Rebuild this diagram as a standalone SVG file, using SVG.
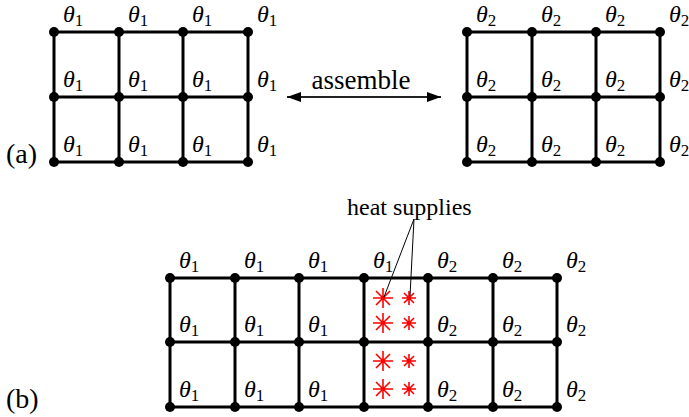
<svg xmlns="http://www.w3.org/2000/svg" width="689" height="417" viewBox="0 0 689 417">
<defs>
<style>
.g{stroke:#000;stroke-width:3;fill:none}
.d{fill:#000}
.t{font-family:"Liberation Serif","Times New Roman",serif;font-size:24px;fill:#000}
.th{font-style:italic}
.sub{font-size:17px;font-style:normal}
.lab{font-size:28px}
.st{stroke:#f00;stroke-width:1.6;fill:none}
.ld{stroke:#000;stroke-width:1;fill:none}
</style>
<marker id="ah" viewBox="0 0 14 10" refX="14" refY="5" markerWidth="14" markerHeight="10" markerUnits="userSpaceOnUse" orient="auto-start-reverse">
<path d="M0,0 L14,5 L0,10 Z" fill="#000"/>
</marker>
<g id="big"><path class="st" d="M-10,0H10M0,-10V10M-7,-7L7,7M-7,7L7,-7"/></g>
<g id="small"><path class="st" d="M-7,0H7M0,-7V7M-5,-5L5,5M-5,5L5,-5"/></g>
</defs>
<rect width="689" height="417" fill="#fff"/>

<g id="gridA">
<path class="g" d="M54,32H248M54,97H248M54,162H248M54,32V162M119,32V162M183,32V162M248,32V162"/>
<g class="d">
<circle cx="54" cy="32" r="5"/><circle cx="119" cy="32" r="5"/><circle cx="183" cy="32" r="5"/><circle cx="248" cy="32" r="5"/>
<circle cx="54" cy="97" r="5"/><circle cx="119" cy="97" r="5"/><circle cx="183" cy="97" r="5"/><circle cx="248" cy="97" r="5"/>
<circle cx="54" cy="162" r="5"/><circle cx="119" cy="162" r="5"/><circle cx="183" cy="162" r="5"/><circle cx="248" cy="162" r="5"/>
</g>
<g class="t">
<text x="63" y="22"><tspan class="th">θ</tspan><tspan class="sub" dy="4">1</tspan></text>
<text x="128" y="22"><tspan class="th">θ</tspan><tspan class="sub" dy="4">1</tspan></text>
<text x="192" y="22"><tspan class="th">θ</tspan><tspan class="sub" dy="4">1</tspan></text>
<text x="257" y="22"><tspan class="th">θ</tspan><tspan class="sub" dy="4">1</tspan></text>
<text x="63" y="87"><tspan class="th">θ</tspan><tspan class="sub" dy="4">1</tspan></text>
<text x="128" y="87"><tspan class="th">θ</tspan><tspan class="sub" dy="4">1</tspan></text>
<text x="192" y="87"><tspan class="th">θ</tspan><tspan class="sub" dy="4">1</tspan></text>
<text x="257" y="87"><tspan class="th">θ</tspan><tspan class="sub" dy="4">1</tspan></text>
<text x="63" y="152"><tspan class="th">θ</tspan><tspan class="sub" dy="4">1</tspan></text>
<text x="128" y="152"><tspan class="th">θ</tspan><tspan class="sub" dy="4">1</tspan></text>
<text x="192" y="152"><tspan class="th">θ</tspan><tspan class="sub" dy="4">1</tspan></text>
<text x="257" y="152"><tspan class="th">θ</tspan><tspan class="sub" dy="4">1</tspan></text>
<text class="lab" x="6" y="163">(a)</text>
</g>
</g>

<g id="gridB">
<path class="g" d="M467,32H660M467,97H660M467,162H660M467,32V162M532,32V162M596,32V162M660,32V162"/>
<g class="d">
<circle cx="467" cy="32" r="5"/><circle cx="532" cy="32" r="5"/><circle cx="596" cy="32" r="5"/><circle cx="660" cy="32" r="5"/>
<circle cx="467" cy="97" r="5"/><circle cx="532" cy="97" r="5"/><circle cx="596" cy="97" r="5"/><circle cx="660" cy="97" r="5"/>
<circle cx="467" cy="162" r="5"/><circle cx="532" cy="162" r="5"/><circle cx="596" cy="162" r="5"/><circle cx="660" cy="162" r="5"/>
</g>
<g class="t">
<text x="476" y="22"><tspan class="th">θ</tspan><tspan class="sub" dy="4">2</tspan></text>
<text x="541" y="22"><tspan class="th">θ</tspan><tspan class="sub" dy="4">2</tspan></text>
<text x="605" y="22"><tspan class="th">θ</tspan><tspan class="sub" dy="4">2</tspan></text>
<text x="669" y="22"><tspan class="th">θ</tspan><tspan class="sub" dy="4">2</tspan></text>
<text x="476" y="87"><tspan class="th">θ</tspan><tspan class="sub" dy="4">2</tspan></text>
<text x="541" y="87"><tspan class="th">θ</tspan><tspan class="sub" dy="4">2</tspan></text>
<text x="605" y="87"><tspan class="th">θ</tspan><tspan class="sub" dy="4">2</tspan></text>
<text x="669" y="87"><tspan class="th">θ</tspan><tspan class="sub" dy="4">2</tspan></text>
<text x="476" y="152"><tspan class="th">θ</tspan><tspan class="sub" dy="4">2</tspan></text>
<text x="541" y="152"><tspan class="th">θ</tspan><tspan class="sub" dy="4">2</tspan></text>
<text x="605" y="152"><tspan class="th">θ</tspan><tspan class="sub" dy="4">2</tspan></text>
<text x="669" y="152"><tspan class="th">θ</tspan><tspan class="sub" dy="4">2</tspan></text>
</g>
</g>

<g id="assemble">
<text class="t" x="361" y="89" text-anchor="middle" style="font-size:27px">assemble</text>
</g>

<g id="gridC">
<path class="g" d="M170,278H557M170,342H557M170,407H557M170,278V407M235,278V407M299,278V407M364,278V407M428,278V407M493,278V407M557,278V407"/>
<g class="d">
<circle cx="170" cy="278" r="5"/><circle cx="235" cy="278" r="5"/><circle cx="299" cy="278" r="5"/><circle cx="364" cy="278" r="5"/><circle cx="428" cy="278" r="5"/><circle cx="493" cy="278" r="5"/><circle cx="557" cy="278" r="5"/>
<circle cx="170" cy="342" r="5"/><circle cx="235" cy="342" r="5"/><circle cx="299" cy="342" r="5"/><circle cx="364" cy="342" r="5"/><circle cx="428" cy="342" r="5"/><circle cx="493" cy="342" r="5"/><circle cx="557" cy="342" r="5"/>
<circle cx="170" cy="407" r="5"/><circle cx="235" cy="407" r="5"/><circle cx="299" cy="407" r="5"/><circle cx="364" cy="407" r="5"/><circle cx="428" cy="407" r="5"/><circle cx="493" cy="407" r="5"/><circle cx="557" cy="407" r="5"/>
</g>
<g class="t">
<text x="179" y="268"><tspan class="th">θ</tspan><tspan class="sub" dy="4">1</tspan></text>
<text x="244" y="268"><tspan class="th">θ</tspan><tspan class="sub" dy="4">1</tspan></text>
<text x="308" y="268"><tspan class="th">θ</tspan><tspan class="sub" dy="4">1</tspan></text>
<text x="373" y="268"><tspan class="th">θ</tspan><tspan class="sub" dy="4">1</tspan></text>
<text x="437" y="268"><tspan class="th">θ</tspan><tspan class="sub" dy="4">2</tspan></text>
<text x="502" y="268"><tspan class="th">θ</tspan><tspan class="sub" dy="4">2</tspan></text>
<text x="566" y="268"><tspan class="th">θ</tspan><tspan class="sub" dy="4">2</tspan></text>
<text x="179" y="332"><tspan class="th">θ</tspan><tspan class="sub" dy="4">1</tspan></text>
<text x="244" y="332"><tspan class="th">θ</tspan><tspan class="sub" dy="4">1</tspan></text>
<text x="308" y="332"><tspan class="th">θ</tspan><tspan class="sub" dy="4">1</tspan></text>
<text x="437" y="332"><tspan class="th">θ</tspan><tspan class="sub" dy="4">2</tspan></text>
<text x="502" y="332"><tspan class="th">θ</tspan><tspan class="sub" dy="4">2</tspan></text>
<text x="566" y="332"><tspan class="th">θ</tspan><tspan class="sub" dy="4">2</tspan></text>
<text x="179" y="397"><tspan class="th">θ</tspan><tspan class="sub" dy="4">1</tspan></text>
<text x="244" y="397"><tspan class="th">θ</tspan><tspan class="sub" dy="4">1</tspan></text>
<text x="308" y="397"><tspan class="th">θ</tspan><tspan class="sub" dy="4">1</tspan></text>
<text x="437" y="397"><tspan class="th">θ</tspan><tspan class="sub" dy="4">2</tspan></text>
<text x="502" y="397"><tspan class="th">θ</tspan><tspan class="sub" dy="4">2</tspan></text>
<text x="566" y="397"><tspan class="th">θ</tspan><tspan class="sub" dy="4">2</tspan></text>
<text class="lab" x="6" y="408">(b)</text>
</g>
</g>

<g id="heat-supplies">
<text class="t" x="347" y="215">heat supplies</text>
<use href="#big" x="383" y="298"/><use href="#small" x="409" y="298"/>
<use href="#big" x="383" y="323"/><use href="#small" x="409" y="323"/>
<use href="#big" x="383" y="361"/><use href="#small" x="409" y="361"/>
<use href="#big" x="383" y="389"/><use href="#small" x="409" y="389"/>
</g>

<g id="connectors">
<line x1="287" y1="97" x2="441" y2="97" stroke="#222" stroke-width="2" marker-start="url(#ah)" marker-end="url(#ah)"/>
<path class="ld" d="M414,219L384,297M414,219L410,296"/>
</g>
</svg>
